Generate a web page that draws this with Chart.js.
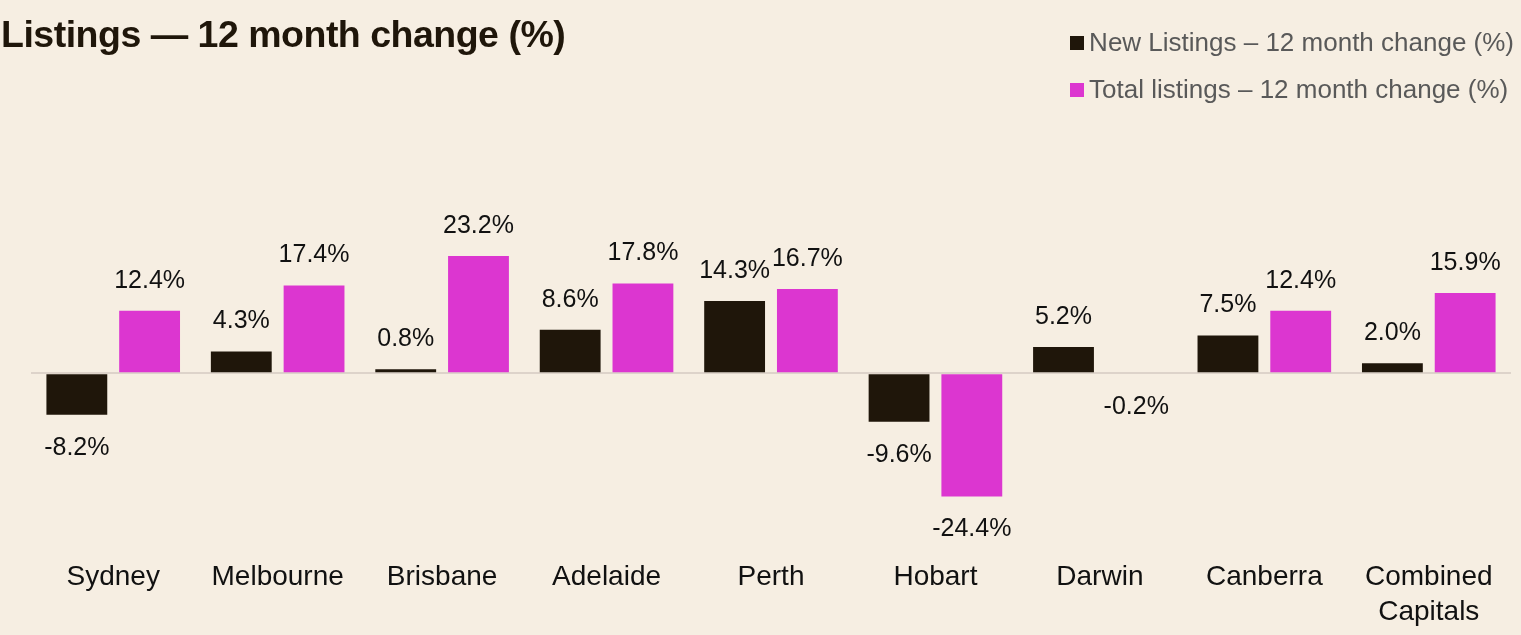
<!DOCTYPE html>
<html>
<head>
<meta charset="utf-8">
<script src="https://cdn.jsdelivr.net/npm/chart.js@4"></script>
<style>
  body { margin: 0; background: #F6EEE2; }
  #wrap { position: relative; width: 1521px; height: 635px; background: #F6EEE2; }
  #title {
    position: absolute; left: 1px; top: 13px;
    font-family: "Liberation Sans", Arial, sans-serif;
    font-weight: bold; font-size: 37.5px; color: #1F160A; letter-spacing: -0.5px;
  }
  #legend {
    position: absolute; right: 7px; top: 26px;
    font-family: "Liberation Sans", Arial, sans-serif;
    font-size: 26px; color: #595959;
  }
  .item { height: 47px; line-height: 32px; white-space: nowrap; }
  .box { display: inline-block; width: 14px; height: 14px; margin-right: 5px; vertical-align: 1px; }
  #chartBox { position: absolute; left: 0; top: 0; width: 1521px; height: 635px; }
</style>
</head>
<body>
<div id="wrap">
  <div id="chartBox"><canvas id="listingsChart"></canvas></div>
  <div id="title">Listings — 12 month change (%)</div>
  <div id="legend"></div>
</div>
<script>
// Chart data
const cities = ['Sydney', 'Melbourne', 'Brisbane', 'Adelaide', 'Perth', 'Hobart', 'Darwin', 'Canberra', ['Combined', 'Capitals']];
const newListings = [-8.2, 4.3, 0.8, 8.6, 14.3, -9.6, 5.2, 7.5, 2.0];
const totalListings = [12.4, 17.4, 23.2, 17.8, 16.7, -24.4, -0.2, 12.4, 15.9];
const seriesNames = ['New Listings – 12 month change (%)', 'Total listings – 12 month change (%)'];
const seriesColors = ['#1F160A', '#DC36D0'];

// Legend in HTML
const legend = document.getElementById('legend');
seriesNames.forEach((name, i) => {
    const div = document.createElement('div');
    div.className = 'item';
    div.innerHTML = `<span class="box" style="background:${seriesColors[i]}"></span>${name}`;
    legend.appendChild(div);
});

// Value labels above / below each bar
const valueLabels = {
    id: 'valueLabels',
    afterDatasetsDraw(chart) {
        const ctx = chart.ctx;
        ctx.save();
        ctx.font = '25px "Liberation Sans", Arial, sans-serif';
        ctx.fillStyle = '#111111';
        ctx.textAlign = 'center';
        ctx.textBaseline = 'middle';
        chart.data.datasets.forEach((ds, i) => {
            const meta = chart.getDatasetMeta(i);
            meta.data.forEach((bar, j) => {
                const v = ds.data[j];
                const y = v >= 0 ? bar.y - 30 : bar.y + 33;
                ctx.fillText(v.toFixed(1) + '%', bar.x, y);
            });
        });
        ctx.restore();
    }
};

const ctx = document.getElementById('listingsChart').getContext('2d');
new Chart(ctx, {
    type: 'bar',
    data: {
        labels: cities,
        datasets: [{
            label: seriesNames[0],
            data: newListings,
            backgroundColor: seriesColors[0],
            categoryPercentage: 0.885,
            barPercentage: 0.836
        }, {
            label: seriesNames[1],
            data: totalListings,
            backgroundColor: seriesColors[1],
            categoryPercentage: 0.885,
            barPercentage: 0.836
        }]
    },
    options: {
        responsive: true,
        maintainAspectRatio: false,
        animation: false,
        layout: {
            padding: { top: 151, left: 31, right: 10, bottom: -12 }
        },
        plugins: {
            legend: { display: false },
            tooltip: { enabled: false }
        },
        scales: {
            x: {
                grid: { display: false },
                border: { display: false },
                ticks: {
                    color: '#111111',
                    font: { family: '"Liberation Sans", Arial, sans-serif', size: 28, lineHeight: 1.25 },
                    padding: 17,
                    maxRotation: 0,
                    autoSkip: false
                }
            },
            y: {
                min: -32,
                max: 44,
                ticks: { display: false },
                border: { display: false },
                grid: {
                    drawTicks: false,
                    lineWidth: 2,
                    color: c => c.tick.value === 0 ? '#DDD3CA' : 'rgba(0,0,0,0)'
                }
            }
        }
    },
    plugins: [valueLabels]
});
</script>
</body>
</html>
